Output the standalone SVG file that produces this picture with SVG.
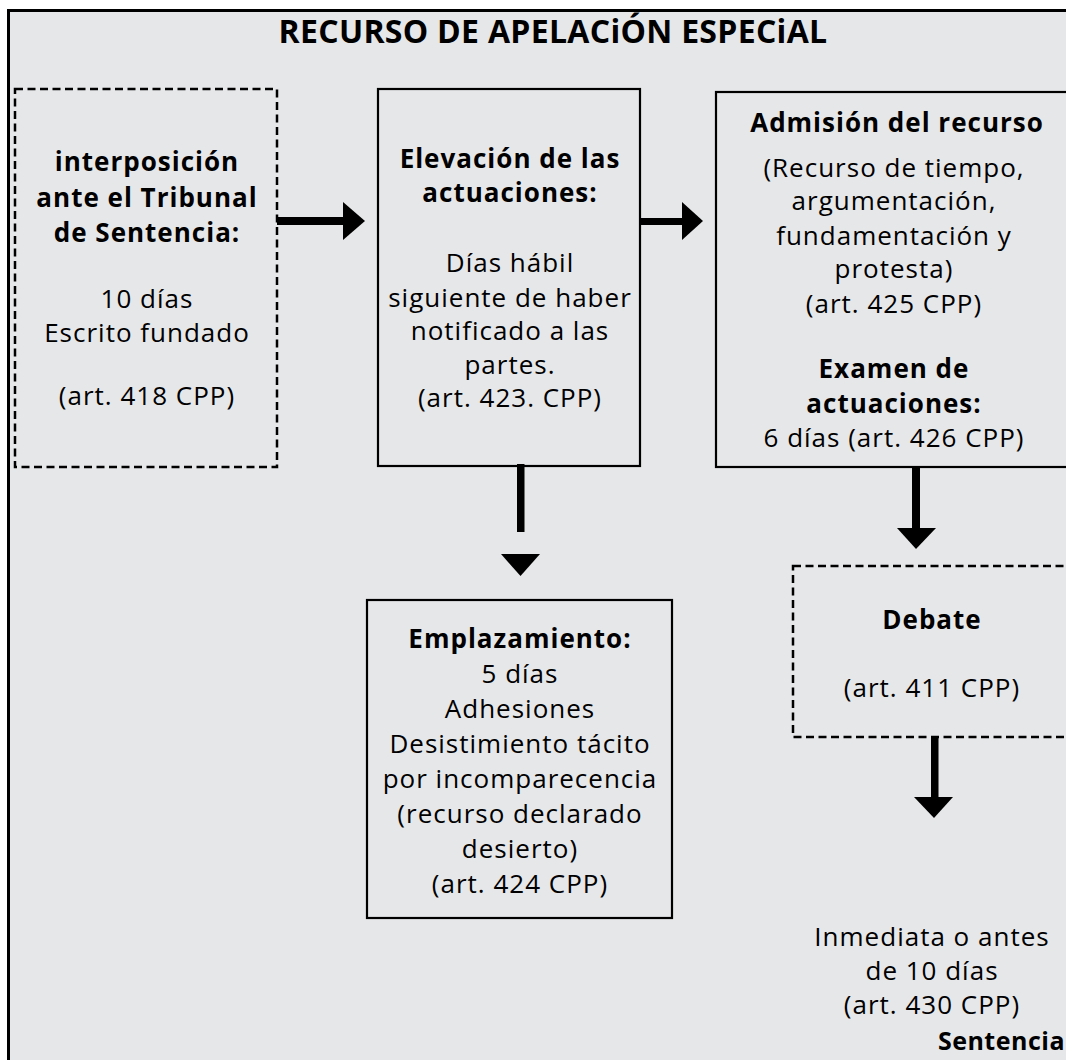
<svg xmlns="http://www.w3.org/2000/svg" width="1066" height="1060" viewBox="0 0 1066 1060">
<style>
.t{font-family:"Open Sans","Noto Sans","DejaVu Sans",sans-serif;font-size:26px;letter-spacing:1px;fill:#000;text-anchor:middle}
.b{font-weight:bold}
.box{fill:none;stroke:#000;stroke-width:2.2}
.dash{stroke-dasharray:8 4.5;stroke-width:2.5}
.arr{fill:#000;stroke:none}
</style>
<rect x="0" y="0" width="1066" height="1060" fill="#ffffff"/>
<rect x="8.5" y="10.5" width="1100" height="1100" fill="#e6e7e9" stroke="#000" stroke-width="3"/>
<text class="t b" x="553" y="43" style="font-size:32px;letter-spacing:0.3px">RECURSO DE APELACiÓN ESPECiAL</text>

<g id="interposicion">
<rect class="box dash" x="15" y="89" width="262" height="378"/>
<text class="t b" x="147" y="171">interposición</text>
<text class="t b" x="147" y="207">ante el Tribunal</text>
<text class="t b" x="147" y="242">de Sentencia:</text>
<text class="t" x="147" y="308">10 días</text>
<text class="t" x="147" y="342">Escrito fundado</text>
<text class="t" x="147" y="405">(art. 418 CPP)</text>
</g>

<g id="elevacion">
<rect class="box" x="378" y="89" width="262" height="377"/>
<text class="t b" x="510" y="168">Elevación de las</text>
<text class="t b" x="510" y="202">actuaciones:</text>
<text class="t" x="510" y="272">Días hábil</text>
<text class="t" x="510" y="307">siguiente de haber</text>
<text class="t" x="510" y="340">notificado a las</text>
<text class="t" x="510" y="374">partes.</text>
<text class="t" x="510" y="407">(art. 423. CPP)</text>
</g>

<g id="admision">
<rect class="box" x="716" y="92" width="380" height="375"/>
<text class="t b" x="897" y="132">Admisión del recurso</text>
<text class="t" x="894" y="177">(Recurso de tiempo,</text>
<text class="t" x="894" y="210">argumentación,</text>
<text class="t" x="894" y="245">fundamentación y</text>
<text class="t" x="894" y="278">protesta)</text>
<text class="t" x="894" y="313">(art. 425 CPP)</text>
<text class="t b" x="894" y="378">Examen de</text>
<text class="t b" x="894" y="413">actuaciones:</text>
<text class="t" x="894" y="447">6 días (art. 426 CPP)</text>
</g>

<g id="emplazamiento">
<rect class="box" x="367" y="600" width="305" height="318"/>
<text class="t b" x="520" y="648">Emplazamiento:</text>
<text class="t" x="520" y="683">5 días</text>
<text class="t" x="520" y="718">Adhesiones</text>
<text class="t" x="520" y="753">Desistimiento tácito</text>
<text class="t" x="520" y="788">por incomparecencia</text>
<text class="t" x="520" y="823">(recurso declarado</text>
<text class="t" x="520" y="858">desierto)</text>
<text class="t" x="520" y="893">(art. 424 CPP)</text>
</g>

<g id="debate">
<rect class="box dash" x="793" y="566" width="300" height="171"/>
<text class="t b" x="932" y="629">Debate</text>
<text class="t" x="932" y="697">(art. 411 CPP)</text>
</g>

<g id="sentencia">
<text class="t" x="932" y="946">Inmediata o antes</text>
<text class="t" x="932" y="980">de 10 días</text>
<text class="t" x="932" y="1014">(art. 430 CPP)</text>
<text class="t b" x="1065" y="1050" style="text-anchor:end;font-size:25px;letter-spacing:0.5px">Sentencia</text>
</g>

<g id="connectors">
<rect class="arr" x="277" y="217" width="68" height="8"/>
<polygon class="arr" points="343,202 365,221 343,240"/>
<rect class="arr" x="640" y="218" width="44" height="7"/>
<polygon class="arr" points="682,202 703,221 682,240"/>
<rect class="arr" x="517" y="464" width="7.5" height="68"/>
<polygon class="arr" points="501,554 540,554 520.5,576"/>
<rect class="arr" x="912" y="467" width="8" height="63"/>
<polygon class="arr" points="897,528 936,528 916,549"/>
<rect class="arr" x="931" y="737" width="7.5" height="63"/>
<polygon class="arr" points="914,797 953,797 934,818"/>
</g>
</svg>
